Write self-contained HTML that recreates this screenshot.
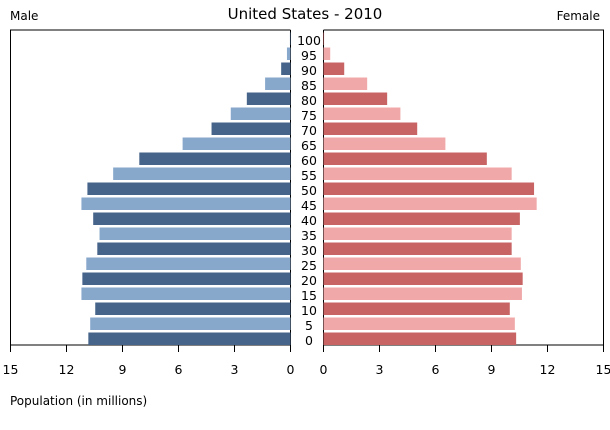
<!DOCTYPE html>
<html><head><meta charset="utf-8"><style>
body{margin:0;background:#fff;}
svg text{font-family:"DejaVu Sans","Liberation Sans",sans-serif;fill:#000;}
</style></head><body>
<svg id="chart" width="610" height="425" viewBox="0 0 610 425" xmlns="http://www.w3.org/2000/svg">
<text x="305" y="19" font-size="15" text-anchor="middle">United States - 2010</text>
<text x="10" y="20" font-size="12">Male</text>
<text x="600" y="20" font-size="12" text-anchor="end">Female</text>
<text x="10" y="405" font-size="12">Population (in millions)</text>
<g id="marks"></g>
</svg>
<script>
const ages = [0,5,10,15,20,25,30,35,40,45,50,55,60,65,70,75,80,85,90,95,100];
const male = [10.83,10.73,10.46,11.2,11.15,10.94,10.35,10.23,10.57,11.2,10.88,9.5,8.1,5.78,4.23,3.2,2.34,1.36,0.5,0.19,0.03];
const female = [10.32,10.25,9.98,10.63,10.67,10.57,10.08,10.08,10.52,11.42,11.28,10.08,8.75,6.53,5.02,4.12,3.41,2.34,1.11,0.36,0.03];
const ticks = [0,3,6,9,12,15];

const NS="http://www.w3.org/2000/svg";
const g=document.getElementById('marks');
const L0=290.5, R0=323.5, SC=280/15, TOP=30, BOT=345, ROW=15;
const xl=v=>L0-v*SC, xr=v=>R0+v*SC;
const yTop=i=>BOT-(i+1)*ROW+2.5;
function mk(tag,attrs){const e=document.createElementNS(NS,tag);for(const k in attrs)e.setAttribute(k,attrs[k]);g.appendChild(e);return e;}

let f=mk('path',{d:`M${L0},${TOP}H${xl(15)}V${BOT}H${L0}V${TOP}`,fill:'none',stroke:'#000','stroke-width':1});


f=mk('path',{d:`M${R0},${TOP}H${xr(15)}V${BOT}H${R0}V${TOP}`,fill:'none',stroke:'#000','stroke-width':1});



ages.forEach((a,i)=>{
  const light=(a%10)===5;
  let r=mk('rect',{x:xl(male[i]),y:yTop(i),width:male[i]*SC,height:12.5,fill:light?'#87a7cb':'#46648a'});
  
  
  r=mk('rect',{x:R0,y:yTop(i),width:female[i]*SC,height:12.5,fill:light?'#f0a8a8':'#c86464'});
  
  
  const t=mk('text',{x:(L0+R0)/2+2,y:BOT-i*ROW,'font-size':12.5,'text-anchor':'middle'});
  t.textContent=a;
  
  
});

ticks.forEach(v=>{
  [[xl(v),'male'],[xr(v),'female']].forEach(([x,s])=>{
    const l=mk('line',{x1:x,x2:x,y1:BOT,y2:BOT+7,stroke:'#000','stroke-width':1});
    
    
    const t=mk('text',{x:x,y:BOT+29,'font-size':12.5,'text-anchor':'middle'});
    t.textContent=v;
    
    
  });
});
</script>
</body></html>
